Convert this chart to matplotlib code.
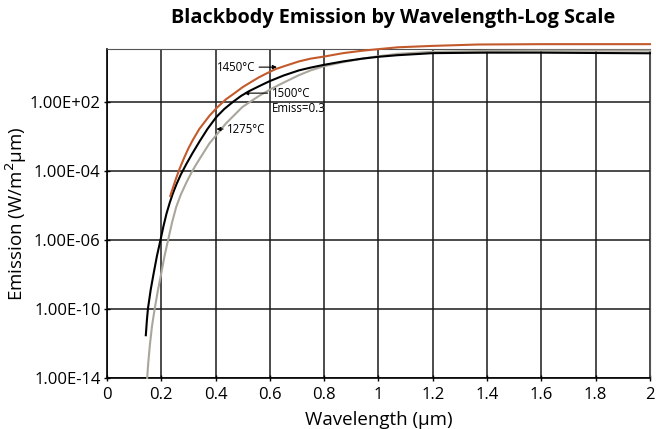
import matplotlib
matplotlib.use("Agg")
import matplotlib.pyplot as plt

plt.rcParams['font.family'] = ['Open Sans', 'DejaVu Sans']

# curve readings, y in grid steps above the bottom line
x_1450 = [0.233, 0.243, 0.255, 0.267, 0.285, 0.300, 0.316, 0.340, 0.377, 0.405,
          0.438, 0.470, 0.499, 0.530, 0.560, 0.590, 0.622, 0.660, 0.707, 0.750,
          0.799, 0.870, 0.940, 1.0, 1.073, 1.2, 1.366, 1.6, 1.8, 2.0]
y_1450 = [2.64, 2.76, 2.90, 3.03, 3.20, 3.33, 3.45, 3.61, 3.80, 3.92,
          4.04, 4.13, 4.215, 4.29, 4.36, 4.42, 4.48, 4.53, 4.59, 4.63,
          4.66, 4.71, 4.745, 4.768, 4.795, 4.815, 4.835, 4.84, 4.84, 4.84]

x_1500 = [0.143, 0.147, 0.151, 0.161, 0.172, 0.184, 0.197, 0.208, 0.219, 0.231,
          0.243, 0.256, 0.272, 0.292, 0.315, 0.341, 0.370, 0.402, 0.432, 0.463,
          0.494, 0.524, 0.560, 0.597, 0.650, 0.707, 0.750, 0.799, 0.870, 0.940,
          1.0, 1.07, 1.2, 1.4, 1.6, 1.8, 2.0]
y_1500 = [0.62, 0.84, 1.01, 1.28, 1.52, 1.77, 2.00, 2.20, 2.38, 2.54,
          2.68, 2.81, 2.95, 3.10, 3.26, 3.43, 3.61, 3.78, 3.90, 4.00,
          4.09, 4.16, 4.23, 4.30, 4.385, 4.46, 4.50, 4.54, 4.59, 4.63,
          4.657, 4.68, 4.71, 4.717, 4.717, 4.712, 4.708]

x_1275 = [0.148, 0.152, 0.158, 0.166, 0.176, 0.188, 0.200, 0.212, 0.225, 0.240,
          0.255, 0.272, 0.292, 0.310, 0.329, 0.377, 0.438, 0.499, 0.560, 0.600,
          0.634, 0.670, 0.707, 0.750, 0.799, 0.870, 0.940, 1.0, 1.073, 1.2,
          1.4, 1.6, 1.8, 2.0]
y_1275 = [0.0, 0.22, 0.48, 0.76, 1.01, 1.28, 1.52, 1.77, 2.00, 2.26,
          2.48, 2.66, 2.83, 2.97, 3.10, 3.40, 3.69, 3.93, 4.09, 4.18,
          4.25, 4.32, 4.39, 4.46, 4.52, 4.58, 4.63, 4.665, 4.70, 4.73,
          4.742, 4.746, 4.746, 4.746]

y_ticks = [0, 1, 2, 3, 4]
y_labels = ['1.00E-14', '1.00E-10', '1.00E-06', '1.00E-04', '1.00E+02']
x_ticks = [0, 0.2, 0.4, 0.6, 0.8, 1, 1.2, 1.4, 1.6, 1.8, 2]

fig = plt.figure(figsize=(6.56, 4.29), dpi=100)
ax = fig.add_axes([0.1631, 0.1189, 0.8277, 0.7669])

ax.plot(x_1275, y_1275, color='#aaa69b', lw=1.5, clip_on=False, zorder=3)
ax.plot(x_1500, y_1500, color='black', lw=1.5, clip_on=False, zorder=4)
ax.plot(x_1450, y_1450, color='#c35a2c', lw=1.5, clip_on=False, zorder=5)

ax.set_xlim(0, 2)
ax.set_ylim(0, 4.77)
ax.set_xticks(x_ticks)
ax.set_xticklabels(['%g' % v for v in x_ticks])
ax.set_yticks(y_ticks)
ax.set_yticklabels(y_labels)
ax.grid(True, color='#1a1a1a', lw=1.1)
ax.set_axisbelow(True)
ax.tick_params(axis='y', direction='inout', length=5, width=1, labelsize=12, colors='black', pad=2)
ax.tick_params(axis='x', direction='inout', length=5, width=1, labelsize=12, colors='black', pad=4)
for s in ['top', 'right']:
    ax.spines[s].set_color('#555555')
for s in ['left', 'bottom']:
    ax.spines[s].set_color('black')
    ax.spines[s].set_linewidth(1.2)

ax.set_xlabel('Wavelength (\u03bcm)', fontsize=13.5, labelpad=6)
ax.set_ylabel('Emission (W/m$^2$\u03bcm)', fontsize=13.5)
ax.yaxis.set_label_coords(-0.143, 0.5)
fig.text(0.60, 0.957, 'Blackbody Emission by Wavelength-Log Scale', fontsize=14.3,
         fontweight='bold', ha='center', va='center')

arrow = dict(arrowstyle='-|>', lw=0.8, color='black', mutation_scale=6,
             shrinkA=1, shrinkB=0)
ax.annotate('1450\u00b0C', xy=(0.626, 4.507), xytext=(0.545, 4.507), fontsize=8.3,
            ha='right', va='center', arrowprops=arrow)
ax.annotate('1500\u00b0C', xy=(0.505, 4.13), xytext=(0.607, 4.13), fontsize=8.3,
            ha='left', va='center', arrowprops=arrow)
ax.text(0.607, 3.913, 'Emiss=0.3', fontsize=8.3, ha='left', va='center')
ax.annotate('1275\u00b0C', xy=(0.403, 3.609), xytext=(0.443, 3.609), fontsize=8.3,
            ha='left', va='center', arrowprops=arrow)

fig.savefig('out.png', dpi=100)
